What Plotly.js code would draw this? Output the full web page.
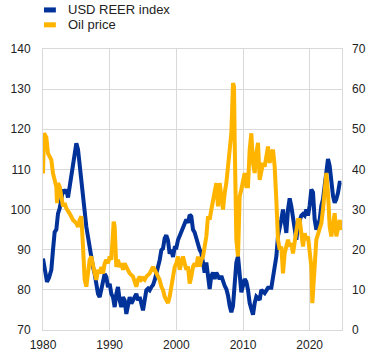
<!DOCTYPE html>
<html>
<head>
<meta charset="utf-8">
<script src="https://cdn.plot.ly/plotly-3.0.1.min.js"></script>
<style>html,body{margin:0;padding:0;background:#fff;}#chart{width:370px;height:355px;}</style>
</head>
<body>
<div id="chart"></div>
<script>
// Series names
const seriesNames = ["USD REER index", "Oil price"];
const xTickLabels = [1980, 1990, 2000, 2010, 2020];

// USD REER index (left axis)
const reerYears = [1980.0,1980.25,1980.6,1980.9,1981.25,1981.5,1981.75,1982.0,1982.25,1982.5,1982.75,1983.0,1983.25,1983.5,1983.75,1984.0,1984.25,1984.5,1984.75,1985.0,1985.25,1985.5,1985.75,1986.0,1986.25,1986.5,1986.75,1987.0,1987.25,1987.5,1987.75,1988.0,1988.25,1988.5,1988.75,1989.0,1989.25,1989.5,1989.75,1990.0,1990.25,1990.5,1990.75,1991.0,1991.25,1991.5,1991.75,1992.0,1992.25,1992.5,1992.75,1993.0,1993.25,1993.5,1993.75,1994.0,1994.25,1994.5,1994.75,1995.0,1995.25,1995.5,1995.75,1996.0,1996.25,1996.5,1996.75,1997.0,1997.25,1997.5,1997.75,1998.0,1998.25,1998.5,1998.75,1999.0,1999.25,1999.5,1999.75,2000.0,2000.25,2000.5,2001.0,2001.5,2001.75,2002.0,2002.25,2002.5,2002.75,2003.0,2003.25,2003.5,2003.75,2004.0,2004.25,2004.5,2004.75,2005.0,2005.25,2005.5,2005.75,2006.0,2006.25,2006.5,2006.75,2007.0,2007.25,2007.5,2007.75,2008.0,2008.25,2008.5,2008.75,2009.0,2009.25,2009.5,2009.75,2010.0,2010.25,2010.5,2010.75,2011.0,2011.5,2011.75,2012.0,2012.5,2012.75,2013.25,2013.75,2014.25,2014.5,2014.75,2015.0,2015.25,2015.5,2015.75,2016.0,2016.25,2016.5,2016.75,2017.0,2017.25,2017.5,2017.75,2018.0,2018.25,2018.75,2019.0,2019.25,2019.5,2019.75,2020.0,2020.25,2020.5,2020.75,2021.0,2021.25,2021.5,2021.75,2022.0,2022.25,2022.5,2022.75,2023.0,2023.25,2023.5,2023.75,2024.0,2024.25,2024.5,2024.75];
const reerValues = [87.8,85,82,83,85,90,94.4,95,99,100.3,103,105,104,105,103,105.7,109,111.5,114,116.5,115,110.7,106.5,102.4,97.4,95.7,93.2,90.7,87.4,85.7,84,80.7,79,78.2,79.9,82.4,84,83.2,80.7,81.5,79,78.2,75.7,79,80.7,77.4,75.7,78.2,77.4,74,76.6,78.2,76.6,77.4,78.2,79,77.4,78.2,76.6,74.9,77.4,79.9,80.3,79.9,80.7,81.2,82.4,84,85,87.4,89.9,90.3,92.8,93.6,92.3,89,90,88.2,90.5,90.5,92.4,93.5,95,97.5,96.7,98.7,98.3,95,94.3,92.6,91,90,89.2,86.8,84.3,86.8,83.5,80.2,83.5,84.3,82.7,84.3,83.5,82.7,83.5,81.9,81,80.2,78.6,76,74.4,76,81.9,86.8,88.4,83.5,79.4,81,82.7,82,80,76.7,73.8,76.7,78.3,77.5,80,79.2,80.5,80.5,83.3,85,88.3,93.4,95,97.5,100,96.7,94.2,100,102.8,100.8,97.5,94.2,92.5,96,98.5,98.9,98.5,100,98.5,101,105,104.3,97.5,95,96.7,97.5,101,102.6,106,109.3,112.6,110.9,106.7,103.4,101.7,102.6,104.2,106.7,106.7];

// Oil price (right axis)
const oilYears = [1980.0,1980.15,1980.5,1980.75,1981.0,1981.25,1981.5,1981.75,1982.0,1982.1,1982.25,1982.5,1982.75,1983.0,1983.25,1983.5,1984.0,1984.5,1985.0,1985.25,1985.5,1985.75,1986.0,1986.25,1986.5,1986.75,1987.0,1987.25,1987.5,1987.75,1988.0,1988.25,1988.5,1988.75,1989.0,1989.25,1989.5,1989.75,1990.0,1990.25,1990.6,1990.75,1991.0,1991.25,1991.5,1991.75,1992.0,1992.25,1992.5,1992.75,1993.0,1993.5,1994.0,1994.25,1994.5,1994.75,1995.0,1995.25,1995.5,1996.0,1996.5,1996.75,1997.0,1997.25,1997.5,1997.75,1998.0,1998.25,1998.75,1999.0,1999.25,1999.5,1999.75,2000.0,2000.25,2000.5,2000.75,2001.0,2001.25,2001.5,2001.75,2002.0,2002.25,2002.5,2002.75,2003.0,2003.25,2003.5,2003.75,2004.0,2004.25,2004.5,2004.75,2005.0,2005.25,2005.5,2005.75,2006.0,2006.25,2006.5,2006.75,2007.0,2007.25,2007.5,2007.75,2008.0,2008.25,2008.5,2008.65,2008.75,2009.0,2009.25,2009.5,2009.75,2010.0,2010.25,2010.5,2010.75,2011.0,2011.25,2011.5,2011.75,2012.0,2012.25,2012.5,2012.75,2013.0,2013.25,2013.5,2013.75,2014.0,2014.25,2014.5,2014.75,2015.0,2015.25,2015.5,2015.75,2016.0,2016.25,2016.5,2016.75,2017.0,2017.25,2017.5,2017.75,2018.0,2018.25,2018.5,2018.75,2019.0,2019.25,2019.5,2019.75,2020.0,2020.25,2020.4,2020.6,2020.75,2021.0,2021.25,2021.5,2021.75,2022.0,2022.25,2022.5,2022.75,2023.0,2023.25,2023.5,2023.75,2024.0,2024.25,2024.5,2024.75];
const oilValues = [39,49,48,44,43.2,42.4,39,37.4,35.7,31.6,36.6,35.7,33.3,30.8,31.6,30.3,29,27.4,26.6,25.7,27.4,28.3,20.8,12.5,10.8,14.1,17.5,18.3,15.7,14.1,12.5,15,14.1,15.7,14.1,16.6,17.5,16.6,18.3,17.5,27,25.7,15.7,17.5,15.7,16.6,15,16.6,15.7,15,14.1,13.3,10.8,12.5,13.3,12.5,12.9,12.5,13.3,14.1,15.7,15,14.1,13.3,12.5,10.8,10,8.3,6.7,8.3,11,14.1,15.7,16.6,18.3,15,16.6,18.3,16.6,15,15.8,11.6,13.3,15.8,16.6,15.8,18.3,15.8,17.5,18.3,20.8,23.3,28.3,27.5,30,32.5,35,36.6,30.8,36.6,33.3,30,34.1,36.6,40.7,44.9,49,61.5,60.7,47.4,22.5,18.3,33.3,35,36.6,39.1,35.8,35.8,44.9,49,41.6,39.1,44,46.6,37.4,39.9,41.6,40.7,43.2,45.7,41.6,44,44.9,40.7,32.4,22.5,20,20.8,14.1,19.1,20.8,22.5,20.8,21.6,19.1,22.5,24.1,27.4,27.4,24.1,20.8,24.1,22.5,23.3,19.1,15.8,6.7,14.1,15.8,22.5,24.1,25.8,26.6,30,35,39.1,34.1,25.8,23.3,25.8,29.1,23.3,25.8,27.4,24.9];

const BLUE = "#003299";
const ORANGE = "#FFB400";
const GRID = "#d9d9d9";
const FONT = "Liberation Sans, Arial, sans-serif";

const traces = [
  {x: reerYears, y: reerValues, name: seriesNames[0], type: "scatter", mode: "lines",
   line: {color: BLUE, width: 4}, yaxis: "y", showlegend: false, hoverinfo: "skip"},
  {x: oilYears, y: oilValues, name: seriesNames[1], type: "scatter", mode: "lines",
   line: {color: ORANGE, width: 4}, yaxis: "y2", showlegend: false, hoverinfo: "skip"}
];

const axisCommon = {
  showgrid: true, gridcolor: GRID, gridwidth: 1, zeroline: false,
  showline: true, linecolor: GRID, linewidth: 1, mirror: true,
  ticks: "", tickfont: {family: FONT, size: 12, color: "#222"}
};

const layout = {
  width: 370, height: 355,
  margin: {l: 43, r: 28, t: 49, b: 25, pad: 0},
  paper_bgcolor: "#fff", plot_bgcolor: "#fff",
  font: {family: FONT, size: 12, color: "#222"},
  showlegend: false,
  xaxis: Object.assign({}, axisCommon, {
    range: [1980, 2024.85], tickvals: xTickLabels, ticktext: xTickLabels.map(String),
    ticklabelstandoff: 4
  }),
  yaxis: Object.assign({}, axisCommon, {
    range: [70, 140], dtick: 10, tick0: 70, ticklabelstandoff: 9
  }),
  yaxis2: Object.assign({}, axisCommon, {
    overlaying: "y", side: "right", range: [0, 70], dtick: 10, tick0: 0,
    showgrid: false, showline: false, ticklabelstandoff: 9
  }),
  shapes: [
    {type: "rect", xref: "paper", yref: "paper", x0: 0.0033, x1: 0.043, y0: 1.130, y1: 1.148,
     fillcolor: BLUE, line: {width: 0}},
    {type: "rect", xref: "paper", yref: "paper", x0: 0.0033, x1: 0.043, y0: 1.077, y1: 1.095,
     fillcolor: ORANGE, line: {width: 0}}
  ],
  annotations: [
    {text: seriesNames[0], xref: "paper", yref: "paper", x: 0.077, y: 1.139, xanchor: "left", yanchor: "middle",
     showarrow: false, font: {family: FONT, size: 13, color: "#222"}},
    {text: seriesNames[1], xref: "paper", yref: "paper", x: 0.077, y: 1.086, xanchor: "left", yanchor: "middle",
     showarrow: false, font: {family: FONT, size: 13, color: "#222"}}
  ]
};

Plotly.newPlot("chart", traces, layout, {staticPlot: true, displayModeBar: false});
</script>
</body>
</html>
